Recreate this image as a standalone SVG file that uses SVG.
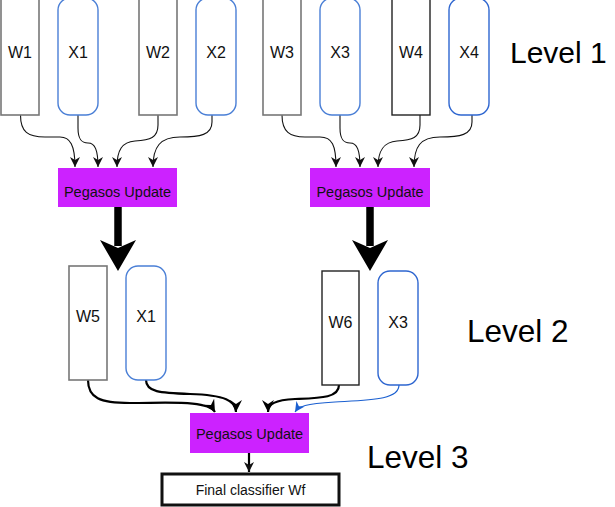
<svg xmlns="http://www.w3.org/2000/svg" width="615" height="507" viewBox="0 0 615 507">
<style>
.w{fill:#fff;stroke:#777;stroke-width:1.6}
.wd{fill:#fff;stroke:#222;stroke-width:1.4}
.x{fill:#fff;stroke:#4a7fd6;stroke-width:1.4}
.p{fill:#cc22ff}
.t{font-family:"Liberation Sans",Arial,sans-serif;font-size:16px;fill:#111;text-anchor:middle}
.pt{font-family:"Liberation Sans",Arial,sans-serif;font-size:14.5px;fill:#111;text-anchor:middle}
.lv{font-family:"Liberation Sans",Arial,sans-serif;font-size:31.5px;fill:#000}
.c1{fill:none;stroke:#111;stroke-width:1.1}
.c2{fill:none;stroke:#000;stroke-width:2.2}
.cb{fill:none;stroke:#1a5fd0;stroke-width:1.2}
</style>
<defs>
<marker id="a1" markerUnits="userSpaceOnUse" markerWidth="10" markerHeight="10" refX="10" refY="5" orient="auto" viewBox="0 0 10 10">
<path d="M0,0 L10,5 L0,10 L3,5 Z" fill="#111"/>
</marker>
<marker id="a2" markerUnits="userSpaceOnUse" markerWidth="12" markerHeight="12" refX="12" refY="6" orient="auto" viewBox="0 0 12 12">
<path d="M0,0 L12,6 L0,12 L4,6 Z" fill="#000"/>
</marker>
<marker id="ab" markerUnits="userSpaceOnUse" markerWidth="10" markerHeight="10" refX="10" refY="5" orient="auto" viewBox="0 0 10 10">
<path d="M0,0 L10,5 L0,10 L3,5 Z" fill="#1a5fd0"/>
</marker>
</defs>

<g id="connectors">
<path class="c1" marker-end="url(#a1)" d="M20.5,115 C20.5,132 28,137 45,137 L60,137 C70,137 75,145 75,167"/>
<path class="c1" marker-end="url(#a1)" d="M78,115 L78,128 C78,140 82,143 88,143 C95,143 98,150 98,167"/>
<path class="c1" marker-end="url(#a1)" d="M158,115 L158,125 C158,138 150,140 135,141 C122,142 117,150 117,167"/>
<path class="c1" marker-end="url(#a1)" d="M212,115 L212,122 C212,135 200,137 180,137 C160,137 153,147 153,167"/>
<path class="c1" marker-end="url(#a1)" d="M282,115 C282,132 290,137 305,137 L320,137 C332,137 336,145 336,167"/>
<path class="c1" marker-end="url(#a1)" d="M340,115 L340,128 C340,140 344,143 350,143 C357,143 360,150 360,167"/>
<path class="c1" marker-end="url(#a1)" d="M420,115 L420,125 C420,138 412,140 397,141 C384,142 378,150 378,167"/>
<path class="c1" marker-end="url(#a1)" d="M472,115 L472,122 C472,135 460,137 440,137 C420,137 414,147 414,167"/>
<line x1="118" y1="207" x2="118" y2="246" stroke="#000" stroke-width="7.5"/>
<path d="M100,240 L118,248 L136,240 L118,271 Z" fill="#000"/>
<line x1="370" y1="207" x2="370" y2="246" stroke="#000" stroke-width="7.5"/>
<path d="M352,240 L370,248 L388,240 L370,271 Z" fill="#000"/>
<path class="c2" marker-end="url(#a2)" d="M88,380 C88,398 100,403 130,403 C170,403 208,400 215,412"/>
<path class="c2" marker-end="url(#a2)" d="M146,380 C146,392 160,393 190,394 C225,395 236,401 236,412"/>
<path class="c2" marker-end="url(#a2)" d="M339,385 C339,398 320,398 295,399 C275,400 268,404 268,412"/>
<path class="cb" marker-end="url(#ab)" d="M399,385 C399,400 370,400 335,402 C305,404 299,406 295,412"/>
<path class="c2" marker-end="url(#a1)" d="M249,453 L249,472"/>
</g>

<g id="W1"><rect class="w" x="1" y="-2" width="38" height="117"/><text class="t" x="20" y="58">W1</text></g>
<g id="X1"><rect class="x" x="58" y="-2" width="40" height="117" rx="12"/><text class="t" x="78" y="58">X1</text></g>
<g id="W2"><rect class="w" x="139" y="-2" width="38" height="117"/><text class="t" x="158" y="58">W2</text></g>
<g id="X2"><rect class="x" x="196" y="-2" width="40" height="117" rx="12"/><text class="t" x="216" y="58">X2</text></g>
<g id="W3"><rect class="w" x="263" y="-2" width="38" height="117"/><text class="t" x="282" y="58">W3</text></g>
<g id="X3"><rect class="x" x="320" y="-2" width="40" height="117" rx="12"/><text class="t" x="340" y="58">X3</text></g>
<g id="W4"><rect class="wd" x="392" y="-2" width="38" height="117"/><text class="t" x="411" y="58">W4</text></g>
<g id="X4"><rect class="x" x="449" y="-2" width="40" height="117" rx="12" style="stroke:#2e66d0"/><text class="t" x="469" y="58">X4</text></g>

<g id="P1"><rect class="p" x="58" y="168" width="119" height="39"/><text class="pt" x="117.5" y="197">Pegasos Update</text></g>
<g id="P2"><rect class="p" x="310" y="168" width="120" height="39"/><text class="pt" x="370" y="197">Pegasos Update</text></g>

<g id="W5"><rect class="w" x="69" y="266" width="38" height="114"/><text class="t" x="88" y="322">W5</text></g>
<g id="X1b"><rect class="x" x="126" y="266" width="40" height="114" rx="12"/><text class="t" x="146" y="322">X1</text></g>
<g id="W6"><rect class="wd" x="322" y="271" width="37" height="114"/><text class="t" x="340.5" y="328">W6</text></g>
<g id="X3b"><rect class="x" x="378" y="271" width="40" height="114" rx="12" style="stroke:#2e66d0"/><text class="t" x="398" y="328">X3</text></g>

<g id="P3"><rect class="p" x="190" y="413" width="119" height="40"/><text class="pt" x="249.5" y="439">Pegasos Update</text></g>
<g id="Final"><rect x="162" y="474" width="177" height="31" fill="#fff" stroke="#111" stroke-width="3"/><text class="pt" x="250.5" y="495" style="font-size:14px">Final classifier Wf</text></g>

<g id="labels">
<text class="lv" x="510" y="63" style="font-size:30px">Level 1</text>
<text class="lv" x="467" y="342">Level 2</text>
<text class="lv" x="367" y="468">Level 3</text>
</g>
</svg>
